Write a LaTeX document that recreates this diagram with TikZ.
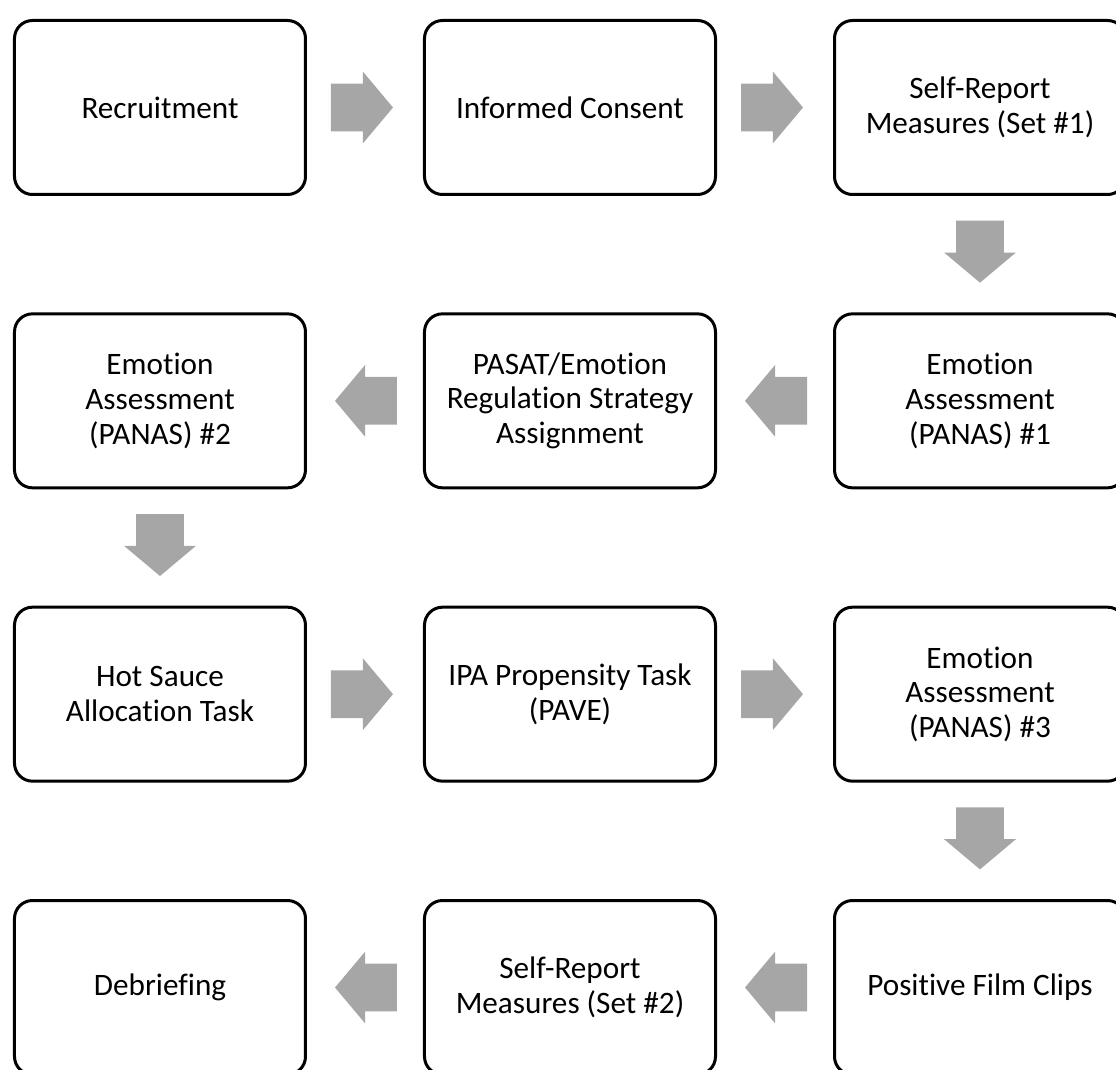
\documentclass[tikz,border=0pt]{standalone}
\usepackage{fontspec}
\setmainfont{Carlito}[Ligatures=NoCommon]
\usetikzlibrary{
  calc,
  positioning,
  shapes.arrows,
}
\definecolor{arrowgray}{RGB}{166,166,166}
\begin{document}
\begin{tikzpicture}[
    node distance=59.67pt and 59.5pt,
    n/.style={
      draw, line width=1.5pt, rounded corners=9pt,
      minimum width=145.5pt, minimum height=87pt,
      inner sep=0pt, outer sep=0pt, align=center,
      font=\fontsize{15.6pt}{17.3pt}\selectfont,
    },
    a/.style={
      single arrow, fill=arrowgray, draw=none, anchor=tail,
      minimum width=35.5pt, minimum height=31pt,
      single arrow head extend=6pt, single arrow tip angle=100,
      inner xsep=0pt, inner ysep=11.75pt, outer sep=0pt,
    },
    l/.style={a, rotate=180},
    d/.style={a, rotate=-90},]
  \useasboundingbox (-80pt,53.75pt) rectangle (478pt,-481.25pt);
  %% first row
  \node[n](Recr){Recruitment};
  \node[n,right=of Recr](Cons){Informed Consent};
  \node[n,right=of Cons](SR1){Self-Report\\Measures (Set \#1)};
  %% second row
  \node[n,below=of SR1](Em1){Emotion\\Assessment\\(PANAS) \#1};
  \node[n,below=of Cons](Pasat){PASAT/Emotion\\Regulation Strategy\\Assignment};
  \node[n,below=of Recr](Em2){Emotion\\Assessment\\(PANAS) \#2};
  %% third row
  \node[n,below=of Em2](Hot){Hot Sauce\\Allocation Task};
  \node[n,below=of Pasat](Ipa){IPA Propensity Task\\(PAVE)};
  \node[n,below=of Em1](Em3){Emotion\\Assessment\\(PANAS) \#3};
  %% fourth row
  \node[n,below=of Em3](Film){Positive Film Clips};
  \node[n,below=of Ipa](SR2){Self-Report\\Measures (Set \#2)};
  \node[n,below=of Hot](Debr){Debriefing};
  %%
  \node[a](RecrCons) at ($(Recr.east)!.5!(Cons.west)+(-17pt,0)$) {};
  \node[a](ConsSR1) at ($(Cons.east)!.5!(SR1.west)+(-17pt,0)$) {};
  \node[d](SR1Em1) at ($(SR1.south)!.5!(Em1.north)+(0,16.75pt)$) {};
  \node[l](Em1Pasat) at ($(Em1.west)!.5!(Pasat.east)+(16pt,0)$) {};
  \node[l](PasatEm2) at ($(Pasat.west)!.5!(Em2.east)+(16pt,0)$) {};
  \node[d](Em2Hot) at ($(Em2.south)!.5!(Hot.north)+(0,16.75pt)$) {};
  \node[a](HotIpa) at ($(Hot.east)!.5!(Ipa.west)+(-17pt,0)$) {};
  \node[a](IpaEm3) at ($(Ipa.east)!.5!(Em3.west)+(-17pt,0)$) {};
  \node[d](Em3Film) at ($(Em3.south)!.5!(Film.north)+(0,16.75pt)$) {};
  \node[l](FilmSR2) at ($(Film.west)!.5!(SR2.east)+(16pt,0)$) {};
  \node[l](SR2Debr) at ($(SR2.west)!.5!(Debr.east)+(16pt,0)$) {};
\end{tikzpicture}
\end{document}
